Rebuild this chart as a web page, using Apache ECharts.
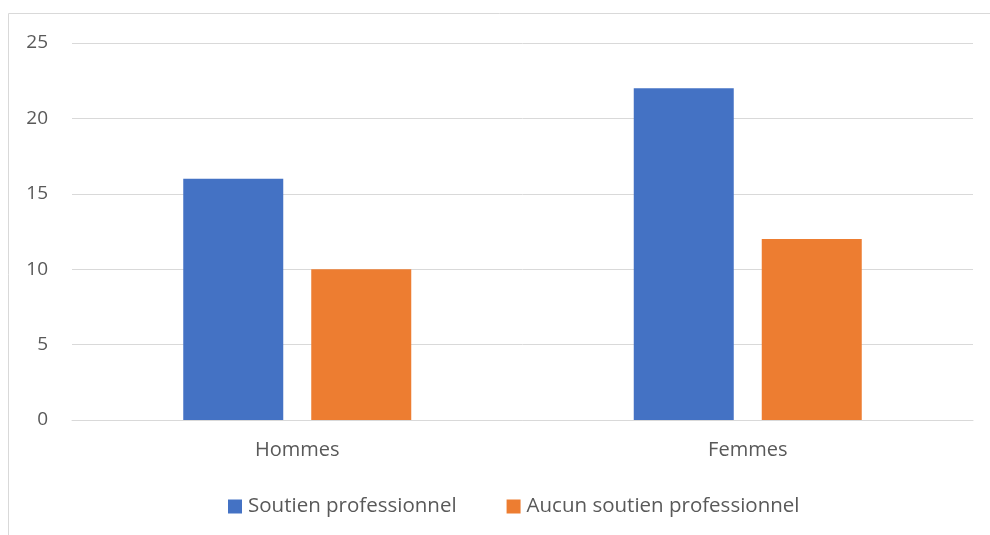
<!DOCTYPE html>
<html><head><meta charset="utf-8">
<script src="https://cdn.jsdelivr.net/npm/echarts@6/dist/echarts.min.js"></script>
<style>html,body{margin:0;padding:0;background:#fff}#c{width:990px;height:535px}</style>
</head><body><div id="c"></div>
<script>
var categories = ['Hommes', 'Femmes'];
var seriesNames = ['Soutien professionnel', 'Aucun soutien professionnel'];
var soutien = [16, 22];
var aucun = [10, 12];
var chart = echarts.init(document.getElementById('c'));
var font = 'Open Sans';
chart.setOption({
  animation: false,
  graphic: [{type:'rect', shape:{x:8.5, y:13.5, width:1000, height:600}, style:{fill:'none', stroke:'#d9d9d9', lineWidth:1}}],
  color: ['#4472c4', '#ed7d31'],
  grid: {left: 72, right: 17, top: 43, bottom: 115},
  legend: {top: 491, left: 223, itemWidth: 14, itemHeight: 14, itemGap: 50, icon: 'rect',
    textStyle: {color: '#595959', fontSize: 20.5, fontFamily: font, padding: [0, 0, 0, 1]}, data: seriesNames},
  xAxis: {type: 'category', data: categories, axisLine: {lineStyle: {color: '#d9d9d9'}}, axisTick: {show: false},
    axisLabel: {color: '#595959', fontSize: 20, fontFamily: font, margin: 20}},
  yAxis: {type: 'value', min: 0, max: 25, interval: 5, axisLine: {show: false}, axisTick: {show: false},
    splitLine: {lineStyle: {color: '#d9d9d9'}},
    axisLabel: {color: '#595959', fontSize: 19, fontFamily: font, margin: 24}},
  series: [
    {name: seriesNames[0], type: 'bar', data: soutien, barWidth: 100, barGap: '28%'},
    {name: seriesNames[1], type: 'bar', data: aucun, barWidth: 100, barGap: '28%'}
  ]
});
</script></body></html>
